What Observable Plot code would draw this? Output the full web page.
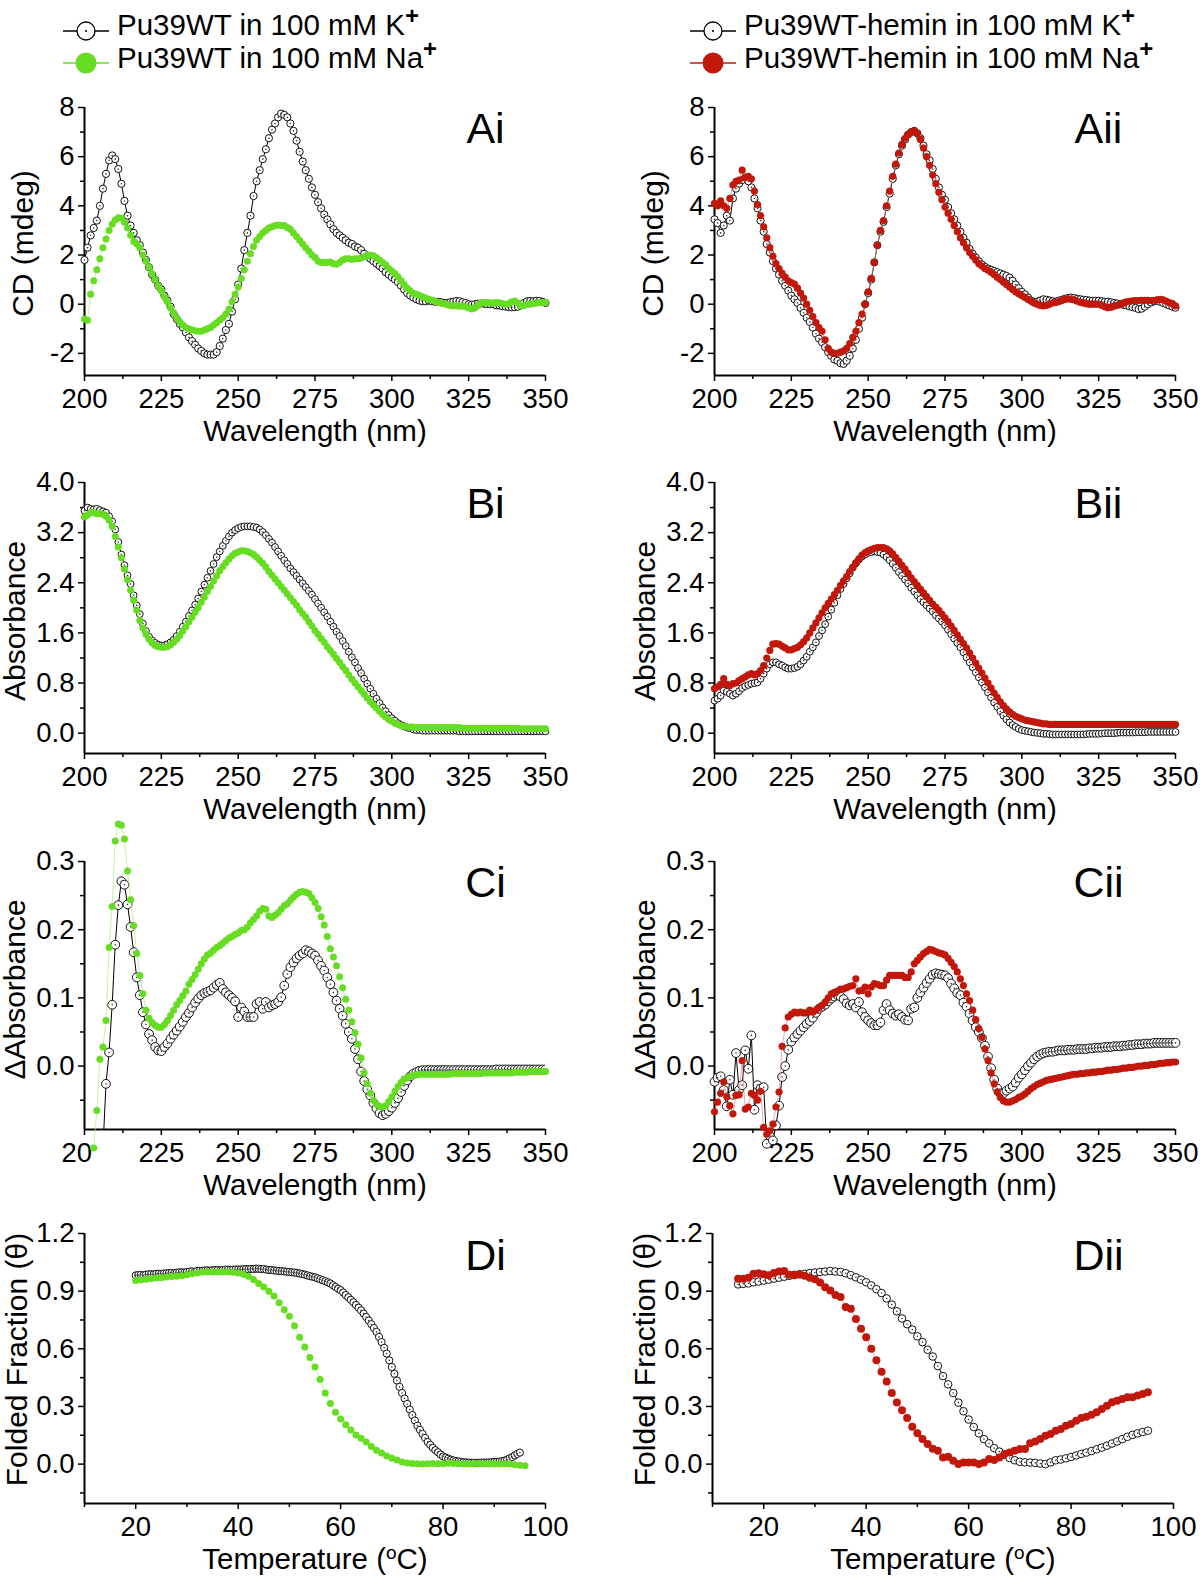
<!DOCTYPE html>
<html><head><meta charset="utf-8">
<script src="https://cdn.jsdelivr.net/npm/d3@7"></script>
<script src="https://cdn.jsdelivr.net/npm/@observablehq/plot@0.6"></script>
<style>
body{margin:0;background:#fff;}
#fig{position:relative;width:1200px;height:1578px;background:#fff;font-family:"Liberation Sans",Arial,Helvetica,sans-serif;}
#fig svg{position:absolute;overflow:visible;}
</style></head><body><div id="fig"></div>
<script>
// ---------- grids ----------
const wavelengths = d3.range(200, 351);            // 1 nm grid, 200-350 nm
const tempDiK = d3.range(151).map(i => 20 + i * 0.5); // 20-95 C, 0.5 C
const tempDiNa = d3.range(20, 97);                 // 20-96 C
const tempDii = d3.range(15, 96);                  // 15-95 C

// ---------- tick labels ----------
const wlTicks = [200, 225, 250, 275, 300, 325, 350];
const wlMinor = [212.5, 237.5, 262.5, 287.5, 312.5, 337.5];
const tTicks = [20, 40, 60, 80, 100];
const tMinor = [10, 30, 50, 70, 90];
const cdTicks = [-2, 0, 2, 4, 6, 8];
const cdMinor = [-1, 1, 3, 5, 7];
const absTicks = [0, 0.8, 1.6, 2.4, 3.2, 4.0];
const absMinor = [0.4, 1.2, 2.0, 2.8, 3.6];
const dAbsTicks = [0, 0.1, 0.2, 0.3];
const dAbsMinor = [-0.05, 0.05, 0.15, 0.25];
const ffTicks = [0, 0.3, 0.6, 0.9, 1.2];
const ffMinor = [-0.15, 0.15, 0.45, 0.75, 1.05];

// ---------- A: CD spectra ----------
const Ai_K = [
1.8,2.3,2.8,3.1,3.4,4.0,4.7,5.3,5.85,6.05,
5.9,5.5,4.9,4.2,3.6,3.2,2.9,2.6,2.4,2.1,
1.8,1.5,1.2,1.0,0.75,0.6,0.35,0.15,-0.1,-0.4,
-0.6,-0.8,-0.95,-1.15,-1.35,-1.5,-1.65,-1.8,-1.9,-2.0,
-2.05,-2.05,-2.05,-1.95,-1.7,-1.4,-1.05,-0.8,-0.3,0.2,
0.8,1.45,2.2,2.9,3.6,4.4,5.0,5.45,5.9,6.3,
6.75,7.1,7.35,7.6,7.75,7.7,7.6,7.35,7.05,6.65,
6.2,5.8,5.45,5.1,4.75,4.45,4.15,3.9,3.65,3.45,
3.25,3.05,2.9,2.8,2.7,2.6,2.5,2.45,2.35,2.3,
2.2,2.05,1.95,1.85,1.75,1.65,1.55,1.45,1.3,1.2,
1.1,1.0,0.9,0.75,0.6,0.45,0.35,0.27,0.2,0.15,
0.12,0.12,0.15,0.12,0.1,0.1,0.08,0.05,0.05,0.08,
0.1,0.13,0.12,0.08,0.05,0.0,-0.02,0.0,0.02,0.03,
0.02,0.0,0.0,0.0,-0.05,-0.05,-0.08,-0.1,-0.12,-0.13,
-0.12,-0.1,-0.05,0.05,0.12,0.13,0.12,0.14,0.13,0.1,
0.05];
const Ai_Na = [
-0.6,-0.65,0.4,0.95,1.4,1.85,2.3,2.65,3.0,3.25,
3.42,3.52,3.5,3.33,3.1,2.8,2.55,2.45,2.3,2.0,
1.75,1.5,1.25,1.0,0.75,0.55,0.3,0.1,-0.15,-0.35,
-0.55,-0.72,-0.85,-0.95,-1.0,-1.05,-1.08,-1.1,-1.1,-1.05,
-1.0,-0.95,-0.85,-0.75,-0.65,-0.55,-0.4,-0.2,0.1,0.4,
0.7,1.05,1.4,1.75,2.05,2.35,2.6,2.75,2.9,3.0,
3.1,3.15,3.2,3.22,3.2,3.2,3.12,3.05,2.9,2.75,
2.6,2.45,2.3,2.15,2.0,1.9,1.75,1.7,1.7,1.7,
1.72,1.65,1.62,1.7,1.8,1.85,1.85,1.82,1.85,1.85,
1.88,1.92,1.98,2.0,1.97,1.9,1.8,1.7,1.6,1.45,
1.35,1.25,1.12,0.95,0.8,0.65,0.55,0.45,0.4,0.35,
0.3,0.25,0.2,0.17,0.12,0.08,0.05,0.02,-0.02,-0.05,
-0.07,-0.06,-0.08,-0.07,-0.1,-0.15,-0.2,-0.15,-0.05,0.05,
0.07,0.07,0.06,0.05,0.07,0.06,0.03,0.0,0.02,0.1,
0.13,0.05,-0.07,-0.05,0.0,0.0,0.03,0.05,0.07,0.07,
0.07];
const Aii_K = [
3.45,3.3,2.9,3.2,3.6,3.4,4.3,4.7,4.9,5.05,
5.15,5.0,4.75,4.3,3.9,3.4,2.95,2.45,2.1,1.75,
1.45,1.2,0.95,0.75,0.55,0.35,0.2,0.05,-0.15,-0.35,
-0.55,-0.72,-0.95,-1.2,-1.4,-1.55,-1.75,-1.95,-2.1,-2.25,
-2.3,-2.4,-2.43,-2.3,-2.1,-1.8,-1.45,-1.0,-0.55,0.0,
0.45,1.0,1.7,2.4,2.95,3.35,3.95,4.5,5.1,5.65,
6.1,6.45,6.7,6.9,7.0,7.05,6.95,6.75,6.45,6.1,
5.85,5.5,5.1,4.75,4.45,4.25,3.95,3.7,3.45,3.2,
2.95,2.7,2.5,2.25,2.05,1.9,1.75,1.62,1.52,1.45,
1.4,1.35,1.3,1.25,1.2,1.15,1.08,0.95,0.8,0.65,
0.5,0.4,0.27,0.15,0.08,0.1,0.15,0.2,0.18,0.15,
0.12,0.1,0.14,0.18,0.22,0.25,0.27,0.25,0.22,0.2,
0.18,0.17,0.15,0.14,0.14,0.14,0.12,0.1,0.1,0.08,
0.05,0.03,0.0,-0.02,-0.05,-0.08,-0.12,-0.15,-0.2,-0.18,
-0.1,0.0,0.07,0.12,0.14,0.1,0.05,0.0,-0.05,-0.1,
-0.14];
const Aii_Na = [
4.1,4.0,4.2,4.0,3.9,4.3,4.85,5.0,5.05,5.45,
5.15,5.2,5.1,4.6,4.05,3.6,3.15,2.7,2.3,1.95,
1.65,1.45,1.25,1.1,0.95,0.88,0.82,0.65,0.45,0.25,
0.0,-0.25,-0.5,-0.75,-0.95,-1.1,-1.45,-1.8,-1.95,-2.0,
-2.0,-1.95,-1.9,-1.8,-1.6,-1.35,-1.1,-0.75,-0.4,0.0,
0.5,1.05,1.7,2.4,3.0,3.4,4.0,4.6,5.2,5.7,
6.15,6.5,6.75,6.9,7.0,7.05,6.95,6.7,6.35,6.0,
5.65,5.25,4.9,4.55,4.25,3.95,3.7,3.45,3.2,2.95,
2.7,2.5,2.3,2.1,1.95,1.8,1.65,1.55,1.45,1.38,
1.3,1.2,1.1,1.0,0.9,0.8,0.7,0.6,0.5,0.42,
0.35,0.27,0.2,0.12,0.05,0.0,-0.05,-0.07,-0.05,0.0,
0.05,0.07,0.1,0.15,0.2,0.22,0.2,0.18,0.12,0.08,
0.05,0.02,0.0,0.0,0.0,0.0,-0.05,-0.1,-0.14,-0.12,
-0.08,-0.05,0.0,0.05,0.1,0.12,0.14,0.15,0.15,0.16,
0.16,0.16,0.15,0.16,0.18,0.2,0.18,0.12,0.07,0.02,
-0.07];

// ---------- B: absorbance ----------
const Bi_K = [
3.55,3.6,3.58,3.57,3.58,3.56,3.54,3.52,3.46,3.38,
3.25,3.05,2.85,2.68,2.52,2.38,2.2,2.04,1.9,1.75,
1.63,1.54,1.48,1.44,1.41,1.4,1.4,1.42,1.45,1.49,
1.55,1.62,1.7,1.78,1.87,1.96,2.05,2.15,2.26,2.37,
2.48,2.59,2.7,2.81,2.9,2.99,3.07,3.14,3.2,3.24,
3.27,3.29,3.3,3.3,3.3,3.29,3.28,3.25,3.21,3.16,
3.1,3.04,2.97,2.9,2.83,2.76,2.7,2.63,2.57,2.51,
2.45,2.39,2.33,2.27,2.21,2.14,2.07,2.0,1.93,1.86,
1.78,1.7,1.62,1.55,1.47,1.39,1.3,1.21,1.13,1.04,
0.96,0.87,0.79,0.71,0.63,0.55,0.48,0.41,0.35,0.29,
0.24,0.2,0.16,0.13,0.11,0.09,0.08,0.06,0.05,0.05,
0.04,0.04,0.04,0.04,0.04,0.04,0.04,0.04,0.04,0.04,
0.04,0.04,0.03,0.03,0.03,0.03,0.03,0.03,0.03,0.03,
0.03,0.03,0.03,0.03,0.03,0.03,0.03,0.03,0.03,0.03,
0.03,0.03,0.03,0.03,0.03,0.03,0.03,0.03,0.03,0.03,
0.03];
const Bi_Na = [
3.45,3.48,3.52,3.52,3.5,3.5,3.49,3.46,3.4,3.3,
3.14,2.97,2.8,2.62,2.45,2.28,2.12,1.96,1.8,1.68,
1.58,1.5,1.44,1.4,1.38,1.37,1.37,1.38,1.41,1.45,
1.5,1.56,1.63,1.7,1.78,1.85,1.93,2.0,2.09,2.17,
2.26,2.34,2.43,2.51,2.59,2.66,2.72,2.78,2.83,2.87,
2.89,2.91,2.91,2.9,2.88,2.85,2.81,2.76,2.71,2.65,
2.58,2.52,2.46,2.4,2.34,2.28,2.22,2.16,2.1,2.04,
1.97,1.91,1.85,1.78,1.71,1.64,1.58,1.51,1.45,1.38,
1.32,1.26,1.19,1.13,1.06,1.0,0.93,0.86,0.8,0.74,
0.68,0.62,0.56,0.5,0.45,0.4,0.35,0.3,0.26,0.22,
0.19,0.16,0.14,0.12,0.11,0.1,0.1,0.1,0.09,0.09,
0.09,0.09,0.09,0.09,0.09,0.09,0.09,0.09,0.09,0.09,
0.09,0.09,0.09,0.08,0.08,0.08,0.08,0.08,0.08,0.08,
0.08,0.08,0.08,0.08,0.08,0.08,0.08,0.08,0.08,0.08,
0.08,0.08,0.07,0.07,0.07,0.07,0.07,0.07,0.07,0.07,
0.07];
const Bii_K = [
0.52,0.55,0.6,0.68,0.66,0.63,0.6,0.63,0.67,0.72,
0.75,0.77,0.79,0.8,0.81,0.87,0.95,1.03,1.1,1.13,
1.13,1.1,1.08,1.05,1.03,1.03,1.04,1.06,1.1,1.16,
1.22,1.3,1.37,1.45,1.55,1.64,1.74,1.86,1.97,2.08,
2.2,2.3,2.38,2.47,2.55,2.64,2.71,2.77,2.82,2.85,
2.88,2.89,2.9,2.89,2.88,2.85,2.81,2.76,2.7,2.64,
2.57,2.51,2.45,2.39,2.32,2.26,2.2,2.14,2.09,2.04,
1.99,1.94,1.88,1.83,1.78,1.72,1.65,1.58,1.51,1.44,
1.37,1.29,1.21,1.13,1.05,0.97,0.89,0.81,0.73,0.65,
0.57,0.49,0.42,0.35,0.28,0.22,0.17,0.13,0.1,0.07,
0.05,0.04,0.03,0.02,0.01,0.005,0.0,-0.01,-0.01,-0.015,
-0.02,-0.02,-0.02,-0.02,-0.02,-0.02,-0.02,-0.02,-0.02,-0.02,
-0.02,-0.015,-0.01,-0.01,-0.01,-0.01,-0.005,0.0,0.0,0.0,
0.0,0.005,0.01,0.01,0.01,0.01,0.01,0.015,0.015,0.015,
0.015,0.02,0.02,0.02,0.02,0.02,0.02,0.02,0.02,0.02,
0.02];
const Bii_Na = [
0.71,0.74,0.78,0.87,0.78,0.76,0.79,0.8,0.84,0.87,
0.9,0.93,0.95,0.93,0.95,1.0,1.08,1.2,1.32,1.42,
1.43,1.42,1.39,1.36,1.33,1.33,1.35,1.37,1.41,1.46,
1.52,1.6,1.68,1.76,1.84,1.92,2.0,2.07,2.14,2.21,
2.28,2.36,2.43,2.5,2.58,2.65,2.72,2.78,2.84,2.88,
2.91,2.93,2.95,2.96,2.96,2.96,2.94,2.91,2.86,2.8,
2.74,2.68,2.62,2.55,2.48,2.42,2.36,2.3,2.24,2.18,
2.12,2.06,2.01,1.96,1.9,1.84,1.78,1.71,1.64,1.57,
1.5,1.43,1.36,1.28,1.2,1.12,1.04,0.96,0.88,0.8,
0.72,0.64,0.57,0.5,0.44,0.39,0.34,0.3,0.27,0.25,
0.23,0.21,0.2,0.19,0.18,0.17,0.16,0.15,0.15,0.14,
0.14,0.14,0.14,0.14,0.14,0.14,0.14,0.14,0.14,0.14,
0.14,0.14,0.14,0.14,0.14,0.14,0.14,0.14,0.14,0.14,
0.14,0.14,0.14,0.14,0.14,0.14,0.14,0.14,0.14,0.14,
0.14,0.14,0.14,0.14,0.14,0.14,0.14,0.14,0.14,0.14,
0.14];

// ---------- C: difference absorbance ----------
const Ci_K = [
null,null,null,null,null,null,-0.12,-0.026,0.02,0.09,
0.178,0.236,0.271,0.266,0.237,0.204,0.167,0.13,0.104,0.079,
0.061,0.047,0.038,0.028,0.023,0.022,0.028,0.033,0.04,0.046,
0.052,0.058,0.065,0.072,0.078,0.086,0.093,0.099,0.104,0.107,
0.109,0.111,0.115,0.119,0.122,0.113,0.108,0.104,0.1,0.095,
0.072,0.086,0.08,0.072,0.072,0.072,0.091,0.094,0.084,0.094,
0.086,0.089,0.091,0.094,0.101,0.118,0.135,0.145,0.152,0.158,
0.162,0.165,0.17,0.168,0.165,0.162,0.155,0.147,0.14,0.13,
0.12,0.108,0.096,0.084,0.074,0.062,0.05,0.04,0.025,0.01,
-0.008,-0.022,-0.034,-0.043,-0.054,-0.062,-0.069,-0.072,-0.07,-0.066,
-0.061,-0.054,-0.047,-0.038,-0.029,-0.021,-0.015,-0.011,-0.009,-0.007,
-0.006,-0.006,-0.006,-0.006,-0.006,-0.006,-0.006,-0.006,-0.006,-0.006,
-0.006,-0.006,-0.006,-0.006,-0.006,-0.006,-0.006,-0.006,-0.006,-0.006,
-0.006,-0.006,-0.006,-0.006,-0.005,-0.005,-0.005,-0.005,-0.005,-0.005,
-0.005,-0.005,-0.005,-0.005,-0.005,-0.005,-0.005,-0.005,-0.005,-0.005,
-0.005];
const Ci_Na = [
null,null,null,-0.12,-0.065,0.01,0.028,0.067,0.174,0.234,
0.33,0.355,0.353,0.333,0.286,0.244,0.206,0.165,0.133,0.106,
0.082,0.07,0.064,0.06,0.057,0.057,0.061,0.067,0.074,0.082,
0.09,0.096,0.103,0.11,0.12,0.127,0.134,0.142,0.15,0.157,
0.163,0.166,0.17,0.174,0.177,0.18,0.184,0.188,0.19,0.193,
0.195,0.199,0.2,0.204,0.21,0.215,0.22,0.227,0.231,0.23,
0.22,0.218,0.221,0.225,0.23,0.235,0.238,0.243,0.248,0.252,
0.255,0.256,0.255,0.253,0.247,0.24,0.231,0.219,0.207,0.19,
0.172,0.16,0.147,0.131,0.115,0.098,0.082,0.065,0.049,0.032,
0.012,-0.01,-0.026,-0.04,-0.05,-0.056,-0.059,-0.06,-0.058,-0.052,
-0.045,-0.037,-0.03,-0.024,-0.019,-0.017,-0.015,-0.014,-0.013,-0.012,
-0.012,-0.012,-0.012,-0.012,-0.012,-0.012,-0.012,-0.012,-0.012,-0.012,
-0.011,-0.011,-0.011,-0.011,-0.011,-0.011,-0.011,-0.011,-0.011,-0.011,
-0.01,-0.01,-0.01,-0.01,-0.01,-0.01,-0.01,-0.01,-0.01,-0.01,
-0.009,-0.009,-0.009,-0.009,-0.009,-0.008,-0.008,-0.008,-0.008,-0.008,
-0.008];
const Cii_K = [
-0.023,-0.017,-0.015,-0.035,-0.059,-0.02,-0.042,0.019,-0.035,-0.028,
0.023,-0.004,0.045,-0.064,-0.028,-0.033,-0.031,-0.114,-0.102,-0.109,
-0.087,-0.058,-0.016,0.0,0.024,0.036,0.042,0.047,0.052,0.057,
0.062,0.066,0.071,0.078,0.084,0.087,0.09,0.095,0.099,0.102,
0.104,0.102,0.098,0.092,0.089,0.091,0.086,0.094,0.079,0.072,
0.067,0.063,0.06,0.06,0.064,0.082,0.091,0.082,0.077,0.074,
0.076,0.072,0.068,0.067,0.084,0.086,0.1,0.108,0.115,0.122,
0.128,0.134,0.136,0.135,0.134,0.133,0.129,0.121,0.114,0.107,
0.104,0.093,0.087,0.077,0.067,0.057,0.05,0.041,0.03,0.014,
-0.003,-0.02,-0.033,-0.04,-0.04,-0.036,-0.033,-0.03,-0.024,-0.017,
-0.012,-0.006,0.0,0.005,0.01,0.014,0.017,0.019,0.02,0.021,
0.021,0.022,0.023,0.023,0.023,0.024,0.024,0.024,0.025,0.025,
0.025,0.025,0.026,0.026,0.027,0.027,0.027,0.028,0.028,0.028,
0.029,0.029,0.029,0.03,0.03,0.031,0.031,0.032,0.032,0.032,
0.033,0.033,0.033,0.034,0.034,0.034,0.034,0.034,0.034,0.034,
0.034];
const Cii_Na = [
-0.067,-0.053,-0.04,-0.023,-0.045,-0.058,-0.07,-0.043,-0.042,0.008,
-0.063,-0.06,-0.04,-0.043,-0.05,-0.037,-0.09,-0.1,-0.095,-0.085,
-0.06,-0.038,0.029,0.056,0.072,0.076,0.079,0.078,0.079,0.078,
0.078,0.082,0.079,0.082,0.086,0.089,0.094,0.1,0.106,0.108,
0.11,0.113,0.113,0.115,0.117,0.118,0.128,0.11,0.111,0.116,
0.106,0.116,0.121,0.12,0.118,0.118,0.126,0.133,0.133,0.133,
0.133,0.133,0.13,0.13,0.138,0.15,0.155,0.16,0.165,0.168,
0.171,0.17,0.168,0.166,0.165,0.163,0.158,0.152,0.146,0.138,
0.128,0.118,0.106,0.096,0.082,0.068,0.055,0.042,0.025,0.008,
-0.01,-0.026,-0.038,-0.046,-0.051,-0.053,-0.053,-0.051,-0.049,-0.046,
-0.044,-0.041,-0.037,-0.033,-0.03,-0.027,-0.025,-0.023,-0.021,-0.02,
-0.019,-0.018,-0.017,-0.016,-0.015,-0.014,-0.013,-0.012,-0.012,-0.011,
-0.011,-0.01,-0.01,-0.009,-0.009,-0.008,-0.008,-0.007,-0.006,-0.006,
-0.005,-0.005,-0.004,-0.003,-0.003,-0.002,-0.002,-0.001,0.0,0.0,
0.001,0.001,0.002,0.002,0.003,0.004,0.004,0.005,0.005,0.006,
0.006];

// ---------- D: melting curves ----------
const Di_K = [
0.982,0.984,0.985,0.983,0.986,0.988,0.988,0.987,0.99,0.991,
0.99,0.992,0.993,0.994,0.995,0.993,0.996,0.998,0.998,0.997,
1.0,1.002,1.003,1.0,1.005,1.006,1.006,1.008,1.008,1.007,
1.009,1.01,1.01,1.008,1.01,1.012,1.012,1.011,1.012,1.013,
1.013,1.012,1.014,1.015,1.014,1.016,1.015,1.017,1.016,1.015,
1.015,1.012,1.01,1.01,1.008,1.006,1.005,1.004,1.003,1.001,
1.0,0.998,0.997,0.995,0.992,0.989,0.986,0.982,0.978,0.975,
0.972,0.967,0.962,0.957,0.952,0.946,0.94,0.931,0.922,0.913,
0.905,0.893,0.88,0.868,0.855,0.842,0.828,0.814,0.8,0.783,
0.765,0.747,0.728,0.708,0.688,0.662,0.635,0.605,0.575,0.54,
0.505,0.47,0.435,0.402,0.37,0.341,0.313,0.284,0.255,0.227,
0.2,0.178,0.157,0.136,0.115,0.1,0.085,0.073,0.062,0.05,
0.04,0.034,0.028,0.023,0.019,0.016,0.014,0.012,0.01,0.009,
0.008,0.007,0.007,0.006,0.007,0.008,0.008,0.008,0.009,0.01,
0.011,0.012,0.013,0.015,0.018,0.023,0.03,0.037,0.045,0.053,
0.06];
const Di_Na = [
0.955,0.958,0.962,0.965,0.968,0.97,0.973,0.976,0.978,0.98,
0.985,0.99,0.995,1.0,1.0,1.0,1.0,1.0,1.0,0.998,
0.995,0.988,0.977,0.96,0.94,0.922,0.9,0.875,0.84,0.803,
0.77,0.72,0.66,0.61,0.555,0.505,0.44,0.37,0.315,0.27,
0.235,0.205,0.178,0.152,0.135,0.115,0.092,0.072,0.058,0.042,
0.031,0.022,0.011,0.006,0.003,0.002,0.0,0.002,0.003,0.002,
0.002,0.004,0.003,0.002,0.0,0.0,0.002,0.003,0.002,0.001,
0.0,0.0,0.002,0.0,-0.003,-0.006,-0.009];
const Dii_K = [
0.935,0.938,0.94,0.946,0.95,0.955,0.96,0.965,0.97,0.975,
0.98,0.985,0.988,0.99,0.994,0.997,1.0,1.002,1.005,1.002,
1.0,0.993,0.983,0.972,0.96,0.946,0.93,0.91,0.89,0.862,
0.83,0.795,0.758,0.728,0.7,0.665,0.635,0.595,0.56,0.51,
0.458,0.415,0.37,0.32,0.275,0.232,0.193,0.16,0.13,0.108,
0.083,0.065,0.048,0.032,0.02,0.012,0.009,0.008,0.006,0.003,
0.0,0.009,0.02,0.024,0.03,0.037,0.045,0.053,0.06,0.068,
0.077,0.086,0.096,0.107,0.118,0.13,0.142,0.152,0.16,0.167,
0.174];
const Dii_Na = [
0.965,0.965,0.97,0.99,0.993,0.988,0.983,0.995,1.002,1.005,
0.985,0.983,0.986,0.98,0.97,0.962,0.945,0.92,0.904,0.88,
0.87,0.817,0.809,0.755,0.704,0.66,0.6,0.54,0.48,0.43,
0.37,0.32,0.28,0.24,0.195,0.16,0.13,0.105,0.08,0.07,
0.035,0.038,0.017,0.0,0.009,0.009,0.009,0.0,0.009,0.026,
0.021,0.035,0.052,0.061,0.07,0.078,0.078,0.108,0.118,0.13,
0.148,0.157,0.174,0.183,0.2,0.209,0.226,0.24,0.247,0.257,
0.27,0.287,0.304,0.322,0.33,0.339,0.348,0.348,0.357,0.365,
0.374];

// ---------- styling ----------
const FONT = '"Liberation Sans", Arial, Helvetica, sans-serif';
const GREEN = "#66dd22", GREEN_LINE = "#a8ec80";
const RED = "#c2180c", RED_LINE = "#e08a80";
const fig = document.getElementById("fig");

function panel(o) {
  const marks = [
    Plot.ruleX([o.xDomain[0]], {stroke: "#000", strokeWidth: 2}),
    Plot.ruleY([o.yDomain[0]], {stroke: "#000", strokeWidth: 2}),
    Plot.axisX(o.xTicks, {tickSize: 6, tickPadding: 7, tickFormat: o.xFmt, fontSize: 27.5, strokeWidth: 1.5, label: null}),
    Plot.axisX(o.xMinor, {tickSize: 4, tickFormat: () => "", strokeWidth: 1.5, label: null}),
    Plot.axisY(o.yTicks, {tickSize: 6, tickPadding: 4, tickFormat: o.yFmt, fontSize: 27.5, strokeWidth: 1.5, label: null}),
    Plot.axisY(o.yMinor, {tickSize: 4, tickFormat: () => "", strokeWidth: 1.5, label: null}),
    Plot.text([o.xLabel], {text: d => d, frameAnchor: "bottom", dy: 56, textAnchor: "middle", lineAnchor: "middle", fontSize: 29.5}),
    Plot.text([o.yLabel], {text: d => d, frameAnchor: "left", dx: o.yDx, dy: o.yDy, rotate: -90, textAnchor: "middle", lineAnchor: "middle", fontSize: 30}),
    Plot.text([o.tag], {text: d => d, frameAnchor: "top-right", dx: o.tagDx, dy: o.tagDy, textAnchor: "middle", lineAnchor: "middle", fontSize: 43})
  ];
  for (const s of o.series) {
    const data = s.x.map((x, i) => ({x, y: s.y[i]})).filter(d => d.y != null);
    const clip = !!s.clip;
    marks.push(Plot.line(data, {x: "x", y: "y", stroke: s.line, strokeWidth: s.lw, clip}));
    if (s.open) {
      marks.push(Plot.dot(data, {x: "x", y: "y", r: s.r, fill: "#fff", stroke: "#111", strokeWidth: 1, clip}));
      marks.push(Plot.dot(data, {x: "x", y: "y", r: 0.8, fill: "#333", clip}));
    } else {
      marks.push(Plot.dot(data, {x: "x", y: "y", r: s.r, fill: s.color, clip}));
    }
  }
  const svg = Plot.plot({
    width: 600, height: o.height,
    marginLeft: o.ml, marginRight: 600 - o.ml - o.fw, marginTop: o.mt, marginBottom: o.mb,
    x: {domain: o.xDomain, label: null},
    y: {domain: o.yDomain, label: null},
    style: {fontFamily: FONT, background: "transparent", overflow: "visible", color: "#000"},
    marks
  });
  svg.style.position = "absolute";
  svg.style.left = o.left + "px";
  svg.style.top = o.top + "px";
  for (const t of svg.querySelectorAll("text")) {
    if (t.textContent === "Temperature (oC)") {
      t.textContent = "";
      t.append("Temperature (");
      const sup = document.createElementNS("http://www.w3.org/2000/svg", "tspan");
      sup.setAttribute("baseline-shift", "super");
      sup.setAttribute("font-size", "19");
      sup.textContent = "o";
      t.append(sup);
      t.append("C)");
    }
  }
  fig.appendChild(svg);
}

const rows = {
  A: {top: 90, height: 360, mt: 17, mb: 75, yDomain: [-2.9, 8], yTicks: cdTicks, yMinor: cdMinor, yFmt: d => String(d), yLabel: "CD (mdeg)", yDx: -61, yDy: 2, tagDy: 22},
  B: {top: 450, height: 370, mt: 32, mb: 67, yDomain: [-0.324, 4.0], yTicks: absTicks, yMinor: absMinor, yFmt: d => d.toFixed(1), yLabel: "Absorbance", yDx: -69, yDy: 3, tagDy: 22},
  C: {top: 820, height: 380, mt: 41, mb: 71, yDomain: [-0.093, 0.3], yTicks: dAbsTicks, yMinor: dAbsMinor, yFmt: d => d.toFixed(1), yLabel: "\u0394Absorbance", yDx: -69, yDy: -6, tagDy: 22},
  D: {top: 1200, height: 378, mt: 33, mb: 75, yDomain: [-0.205, 1.2], yTicks: ffTicks, yMinor: ffMinor, yFmt: d => d.toFixed(1), yLabel: "Folded Fraction (\u03b8)", yDx: -67, yDy: -9, tagDy: 23}
};
const wlX = {xDomain: [200, 350], xTicks: wlTicks, xMinor: wlMinor, xFmt: d => String(d), xLabel: "Wavelength (nm)"};
const tX = {xDomain: [10, 100], xTicks: tTicks, xMinor: tMinor, xFmt: d => String(d), xLabel: "Temperature (oC)"};
const L = {left: 0, ml: 84, fw: 461, tagDx: -60};
const R = {left: 600, ml: 114, fw: 461, tagDx: -77};
const RD = {left: 600, ml: 112, fw: 461, tagDx: -75};

const K = (x, y, r, extra) => Object.assign({x, y, open: true, r, line: "#000", lw: 1}, extra || {});
const G = (x, y, r) => ({x, y, open: false, r, color: GREEN, line: GREEN_LINE, lw: 0.7});
const Rd = (x, y, r) => ({x, y, open: false, r, color: RED, line: RED_LINE, lw: 0.7});

panel({...rows.A, ...wlX, ...L, tag: "Ai", series: [K(wavelengths, Ai_K, 3.6), G(wavelengths, Ai_Na, 3.5)]});
panel({...rows.A, ...wlX, ...R, tag: "Aii", series: [K(wavelengths, Aii_K, 3.6), Rd(wavelengths, Aii_Na, 3.6)]});
panel({...rows.B, ...wlX, ...L, tag: "Bi", series: [K(wavelengths, Bi_K, 3.4), G(wavelengths, Bi_Na, 3.5)]});
panel({...rows.B, ...wlX, ...R, tag: "Bii", series: [K(wavelengths, Bii_K, 3.4), Rd(wavelengths, Bii_Na, 3.6)]});
panel({...rows.C, ...wlX, ...L, xFmt: d => d === 200 ? "20\u2007" : String(d), tag: "Ci", series: [K(wavelengths, Ci_K, 4.4, {clip: true}), G(wavelengths, Ci_Na, 3.5)]});
panel({...rows.C, ...wlX, ...R, tag: "Cii", series: [K(wavelengths, Cii_K, 4.4), Rd(wavelengths, Cii_Na, 3.6)]});
panel({...rows.D, ...tX, ...L, tag: "Di", series: [K(tempDiK, Di_K, 3.6), G(tempDiNa, Di_Na, 3.5)]});
panel({...rows.D, ...tX, ...RD, tag: "Dii", series: [K(tempDii, Dii_K, 3.8), Rd(tempDii, Dii_Na, 4)]});

// ---------- legends ----------
const leg = d3.create("svg").attr("width", 1200).attr("height", 90)
  .style("position", "absolute").style("left", "0px").style("top", "0px")
  .style("font-family", FONT);
function legendItem(x0, cy, base, label, kind, color) {
  leg.append("line").attr("x1", x0).attr("x2", x0 + 46).attr("y1", cy).attr("y2", cy)
    .attr("stroke", kind === "open" ? "#000" : color).attr("stroke-width", 1.5);
  if (kind === "open") {
    leg.append("circle").attr("cx", x0 + 23).attr("cy", cy).attr("r", 9).attr("fill", "#fff").attr("stroke", "#000").attr("stroke-width", 1.3);
    leg.append("circle").attr("cx", x0 + 23).attr("cy", cy).attr("r", 1.1).attr("fill", "#000");
  } else {
    leg.append("circle").attr("cx", x0 + 23).attr("cy", cy).attr("r", 10.5).attr("fill", color);
  }
  const t = leg.append("text").attr("x", x0 + 54).attr("y", base).attr("font-size", 29.5).attr("fill", "#000").text(label);
  t.append("tspan").attr("dy", -11).attr("font-size", 24).attr("font-weight", "bold").text("+");
}
legendItem(63, 31, 35, "Pu39WT in 100 mM K", "open");
legendItem(63, 63, 68, "Pu39WT in 100 mM Na", "filled", GREEN);
legendItem(690, 31, 35, "Pu39WT-hemin in 100 mM K", "open");
legendItem(690, 63, 68, "Pu39WT-hemin in 100 mM Na", "filled", RED);
fig.appendChild(leg.node());
</script>
</body></html>
